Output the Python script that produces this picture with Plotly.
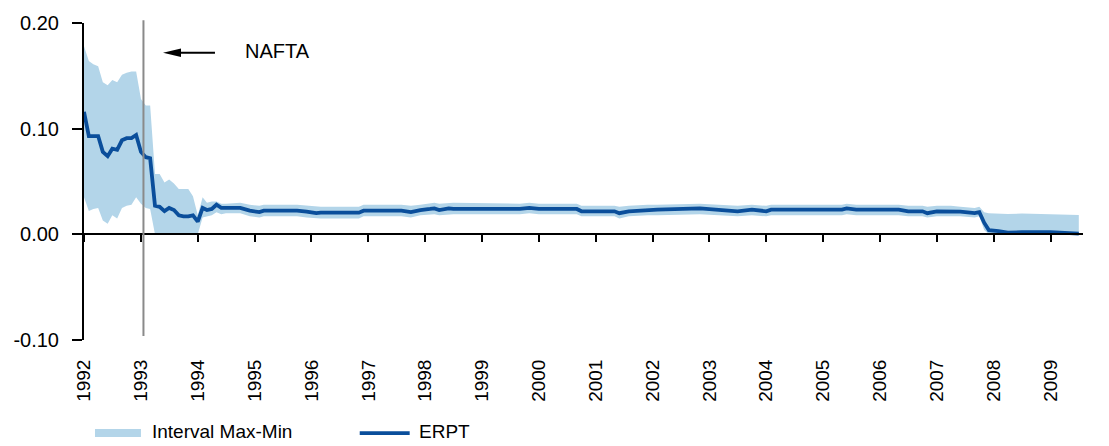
import plotly.graph_objects as go

# Monthly observation dates (denser where the estimate moves, sparser where it is flat)
months = [
    "1992-01-01", "1992-02-01", "1992-03-01", "1992-04-01", "1992-05-01", "1992-06-01",
    "1992-07-01", "1992-08-01", "1992-09-01", "1992-10-01", "1992-11-01", "1992-12-01",
    "1993-01-01", "1993-02-01", "1993-03-01", "1993-04-01", "1993-05-01", "1993-06-01",
    "1993-07-01", "1993-08-01", "1993-09-01", "1993-10-01", "1993-11-01", "1993-12-01",
    "1994-01-01", "1994-02-01", "1994-03-01", "1994-04-01", "1994-05-01", "1994-06-01",
    "1994-07-01", "1994-10-01", "1994-12-01", "1995-02-01", "1995-03-01", "1995-10-01",
    "1995-12-01", "1996-02-01", "1996-03-01", "1996-11-01", "1996-12-01", "1997-08-01",
    "1997-10-01", "1997-12-01", "1998-02-01", "1998-03-01", "1998-04-01", "1998-06-01",
    "1998-07-01", "1999-09-01", "1999-11-01", "2000-01-01", "2000-09-01", "2000-10-01",
    "2001-05-01", "2001-06-01", "2001-08-01", "2001-12-01", "2002-02-01", "2002-11-01",
    "2003-02-01", "2003-05-01", "2003-07-01", "2003-10-01", "2004-01-01", "2004-02-01",
    "2005-05-01", "2005-06-01", "2005-08-01", "2006-05-01", "2006-07-01", "2006-10-01",
    "2006-11-01", "2007-01-01", "2007-04-01", "2007-06-01", "2007-09-01", "2007-10-01",
    "2007-11-01", "2007-12-01", "2008-02-01", "2008-04-01", "2008-07-01", "2009-01-01",
    "2009-07-01",
]

# Exchange-rate pass-through estimate
erpt = [
    0.116, 0.093, 0.093, 0.093, 0.078, 0.074,
    0.081, 0.080, 0.089, 0.091, 0.091, 0.094,
    0.078, 0.073, 0.072, 0.027, 0.026, 0.022,
    0.025, 0.023, 0.018, 0.017, 0.017, 0.018,
    0.012, 0.025, 0.023, 0.024, 0.028, 0.025,
    0.025, 0.025, 0.0224, 0.021, 0.0224, 0.0224,
    0.0215, 0.020, 0.0205, 0.0205, 0.0224, 0.0224,
    0.021, 0.023, 0.024, 0.0246, 0.023, 0.0246,
    0.024, 0.024, 0.025, 0.024, 0.024, 0.0218,
    0.0218, 0.020, 0.0218, 0.023, 0.0234, 0.0246,
    0.0234, 0.0218, 0.0218, 0.0234, 0.0218, 0.0234,
    0.0234, 0.0246, 0.0234, 0.0234, 0.0218, 0.0218,
    0.020, 0.0218, 0.0218, 0.0215, 0.020, 0.021,
    0.011, 0.004, 0.003, 0.0016, 0.002, 0.002,
    0.0006,
]

# Upper edge of the max-min interval
band_max = [
    0.178, 0.164, 0.161, 0.159, 0.144, 0.141,
    0.146, 0.144, 0.151, 0.153, 0.154, 0.154,
    0.128, 0.122, 0.122, 0.057, 0.057, 0.049,
    0.052, 0.048, 0.043, 0.043, 0.043, 0.036,
    0.018, 0.035, 0.030, 0.031, 0.031, 0.029,
    0.029, 0.030, 0.028, 0.027, 0.028, 0.028,
    0.027, 0.026, 0.026, 0.026, 0.028, 0.028,
    0.027, 0.028, 0.029, 0.030, 0.029, 0.030,
    0.030, 0.029, 0.030, 0.029, 0.029, 0.027,
    0.027, 0.026, 0.027, 0.028, 0.028, 0.029,
    0.028, 0.027, 0.027, 0.028, 0.027, 0.028,
    0.028, 0.029, 0.028, 0.028, 0.027, 0.027,
    0.026, 0.027, 0.027, 0.026, 0.025, 0.026,
    0.021, 0.020, 0.0193, 0.0193, 0.0196, 0.019,
    0.0184,
]

# Lower edge of the max-min interval
band_min = [
    0.035, 0.022, 0.024, 0.025, 0.013, 0.010,
    0.018, 0.015, 0.025, 0.027, 0.028, 0.035,
    0.029, 0.025, 0.024, 0.000, 0.000, 0.000,
    0.000, 0.000, 0.000, 0.000, 0.000, 0.000,
    0.000, 0.016, 0.017, 0.018, 0.021, 0.019,
    0.020, 0.020, 0.017, 0.016, 0.017, 0.017,
    0.016, 0.015, 0.015, 0.015, 0.017, 0.017,
    0.016, 0.018, 0.019, 0.019, 0.018, 0.019,
    0.019, 0.019, 0.020, 0.019, 0.019, 0.017,
    0.017, 0.015, 0.017, 0.018, 0.018, 0.019,
    0.018, 0.017, 0.017, 0.018, 0.017, 0.018,
    0.018, 0.019, 0.018, 0.018, 0.017, 0.017,
    0.016, 0.017, 0.017, 0.017, 0.016, 0.017,
    0.004, 0.000, 0.000, 0.000, 0.000, 0.000,
    0.000,
]

year_ticks = [f"{y}-01-01" for y in range(1992, 2010)]
year_labels = [str(y) for y in range(1992, 2010)]
y_ticks = [-0.10, 0.00, 0.10, 0.20]
y_labels = ["-0.10", "0.00", "0.10", "0.20"]

nafta_date = "1993-01-17"
x_range = ["1992-01-01", "2009-07-28"]

LIGHT = "#B3D5E9"
DARK = "#0A4E9B"
FONT = "Liberation Sans, Arial, sans-serif"

fig = go.Figure()

fig.add_trace(go.Scatter(
    x=months, y=band_min, mode="lines", line=dict(width=0, color=LIGHT),
    hoverinfo="skip", showlegend=False,
))
fig.add_trace(go.Scatter(
    x=months, y=band_max, mode="lines", line=dict(width=0, color=LIGHT),
    fill="tonexty", fillcolor=LIGHT, name="Interval Max-Min", showlegend=False,
))
fig.add_trace(go.Scatter(
    x=months, y=erpt, mode="lines", line=dict(width=3.8, color=DARK),
    name="ERPT", showlegend=False,
))
# carrier trace so the zero-line axis is drawn
fig.add_trace(go.Scatter(
    x=[months[0]], y=[None], xaxis="x2", mode="lines",
    hoverinfo="skip", showlegend=False,
))

fig.update_layout(
    width=1109, height=446,
    margin=dict(l=84, r=26, t=20, b=106),
    plot_bgcolor="white", paper_bgcolor="white",
    font=dict(family=FONT, size=19, color="black"),
    xaxis=dict(
        type="date", range=x_range, tickvals=year_ticks, ticktext=year_labels,
        tickangle=-90, showline=False, showgrid=False, zeroline=False,
        ticks="outside", ticklen=11, tickcolor="rgba(0,0,0,0)",
        tickfont=dict(family=FONT, size=19, color="black"),
    ),
    xaxis2=dict(
        type="date", range=x_range, tickvals=year_ticks, overlaying="x",
        anchor="free", position=1 / 3, showticklabels=False,
        showline=True, linecolor="black", linewidth=2,
        ticks="outside", ticklen=7, tickwidth=2, tickcolor="black",
        showgrid=False, zeroline=False,
    ),
    yaxis=dict(
        range=[-0.10, 0.20], tickvals=y_ticks, ticktext=y_labels,
        showline=True, linecolor="black", linewidth=2,
        ticks="outside", ticklen=10, tickwidth=2, tickcolor="black",
        showgrid=False, zeroline=False, ticklabelstandoff=9,
        tickfont=dict(family=FONT, size=20, color="black"),
    ),
)

# NAFTA marker line
fig.add_shape(
    type="line", xref="x", yref="paper", x0=nafta_date, x1=nafta_date,
    y0=0.0125, y1=1.009, line=dict(color="#8A8A8A", width=2), layer="above",
)

# Arrow pointing to the NAFTA line
fig.add_shape(
    type="line", xref="paper", yref="paper", x0=0.094, x1=0.1311,
    y0=0.90625, y1=0.90625, line=dict(color="black", width=2),
)
fig.add_shape(
    type="path", xref="paper", yref="paper",
    path="M 0.0791 0.90625 L 0.0971 0.9195 L 0.0971 0.893 Z",
    fillcolor="black", line=dict(color="black", width=0),
)
fig.add_annotation(
    xref="paper", yref="paper", x=0.159, y=0.9125, text="NAFTA",
    showarrow=False, xanchor="left", yanchor="middle",
    font=dict(family=FONT, size=20, color="black"),
)

# Legend drawn beneath the axis labels
fig.add_shape(
    type="rect", xref="paper", yref="paper", x0=0.011, x1=0.057,
    y0=-0.306, y1=-0.281, fillcolor=LIGHT, line=dict(width=0),
)
fig.add_annotation(
    xref="paper", yref="paper", x=0.066, y=-0.29, text="Interval Max-Min",
    showarrow=False, xanchor="left", yanchor="middle",
    font=dict(family=FONT, size=19, color="black"),
)
fig.add_shape(
    type="line", xref="paper", yref="paper", x0=0.276, x1=0.326,
    y0=-0.294, y1=-0.294, line=dict(color=DARK, width=3.8),
)
fig.add_annotation(
    xref="paper", yref="paper", x=0.333, y=-0.29, text="ERPT",
    showarrow=False, xanchor="left", yanchor="middle",
    font=dict(family=FONT, size=19, color="black"),
)

fig.write_html("out.html")
